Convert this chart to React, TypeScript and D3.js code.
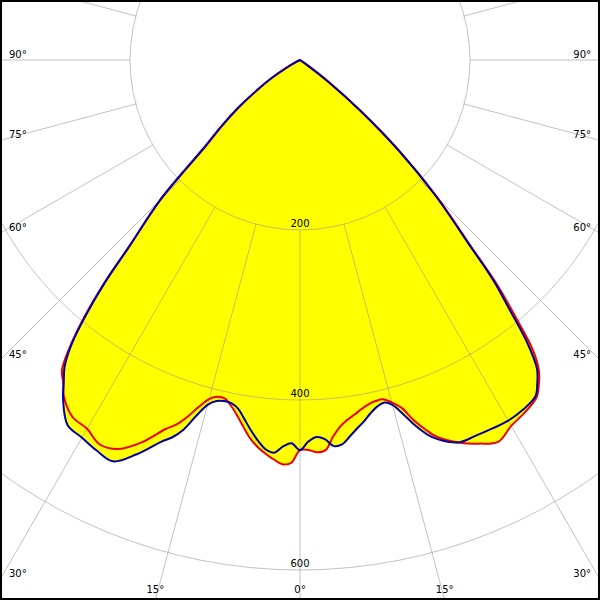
import React from 'react';
import * as d3 from 'd3';

const W = 600;
const H = 600;
const CX = 300;
const CY = 60;

// gamma angles (degrees from nadir)
const gammas = [0, 1.25, 2.5, 3.75, 5, 6.25, 7.5, 8.75, 10, 11.25, 12.5, 13.75, 15, 16.25, 17.5, 18.75, 20, 22.5, 25, 27.5, 30, 32.5, 35, 36.25, 37.5, 38.75, 40, 41.25, 42.5, 45, 47.5, 50, 52.5, 55, 57.5, 60, 62.5, 65, 90];

// blue curve, left half (C180 side) and right half (C0 side)
const blueLeft = [459, 451, 455, 463, 460, 451, 440, 428, 417, 412, 411, 413, 420, 436, 456, 469, 478, 502, 521, 518, 513, 509, 486, 470, 455, 430, 392, 348, 297, 233, 155, 120, 90, 62, 40, 20, 5, 0, 0];
const blueRight = [459, 449, 444, 447, 456, 455, 447, 439, 432, 424, 418, 415, 420, 434, 451, 465, 475, 487, 488, 489, 490, 488, 483, 472, 458, 428, 384, 346, 295, 225, 158, 92, 42, 10, 0, 0, 0, 0, 0];

// red curve, left half and right half
const redLeft = [459, 474, 476, 471, 465, 458, 449, 437, 425, 415, 408, 408, 413, 425, 440, 453, 462, 487, 505, 510, 501, 498, 484, 471, 460, 432, 395, 350, 297, 230, 152, 117, 88, 60, 39, 19, 5, 0, 0];
const redRight = [459, 459, 462, 460, 445, 434, 427, 422, 417, 413, 411, 411, 417, 426, 444, 459, 472, 487, 498, 506, 497, 492, 485, 475, 462, 438, 394, 352, 298, 228, 157, 92, 42, 10, 0, 0, 0, 0, 0];

const ringValues = [200, 400, 600];
const sideLabelAngles = [90, 75, 60, 45, 30];
const bottomLabelAngles = [15, 0];

const rScale = d3.scaleLinear().domain([0, 600]).range([0, 510]);
const rad = (d: number) => (d * Math.PI) / 180;

function curvePoints(left: number[], right: number[]): [number, number][] {
  const pts: [number, number][] = [];
  for (let i = gammas.length - 1; i >= 0; i--) {
    pts.push([Math.PI - rad(gammas[i]), rScale(right[i])]);
  }
  for (let i = 1; i < gammas.length; i++) {
    pts.push([Math.PI + rad(gammas[i]), rScale(left[i])]);
  }
  return pts;
}

const radial = d3
  .lineRadial<[number, number]>()
  .angle((d) => d[0])
  .radius((d) => d[1])
  .curve(d3.curveCatmullRom.alpha(0.5));

export default function App() {
  const bluePath = radial(curvePoints(blueLeft, blueRight)) + 'Z';
  const redPath = radial(curvePoints(redLeft, redRight)) + 'Z';
  const spokes = d3.range(0, 360, 15);
  const rInner = rScale(200);
  const rOuter = 1000;
  const font = { fontFamily: 'DejaVu Sans, sans-serif', fontSize: 10, fill: '#000' };

  return (
    <svg
      width={W}
      height={H}
      style={{ position: 'absolute', left: 0, top: 0, display: 'block' }}
    >
      <rect x={0} y={0} width={W} height={H} fill="#fff" />
      <g transform={`translate(${CX},${CY})`}>
        <path d={redPath} fill="#ffff00" stroke="none" />
        <path d={bluePath} fill="#ffff00" stroke="none" />
        <g stroke="#999" strokeOpacity={0.6} fill="none" strokeWidth={1}>
          {ringValues.map((v) => (
            <circle key={v} r={rScale(v)} />
          ))}
          {spokes.map((a) => (
            <line
              key={a}
              x1={rInner * Math.sin(rad(a))}
              y1={rInner * Math.cos(rad(a))}
              x2={rOuter * Math.sin(rad(a))}
              y2={rOuter * Math.cos(rad(a))}
            />
          ))}
        </g>
        <path d={redPath} fill="none" stroke="#ee0000" strokeWidth={2} strokeLinejoin="round" />
        <path d={bluePath} fill="none" stroke="#0000aa" strokeWidth={2} strokeLinejoin="round" />
      </g>
      {ringValues.map((v) => (
        <text key={v} x={CX} y={CY + rScale(v) - 3} textAnchor="middle" {...font}>
          {v}
        </text>
      ))}
      {sideLabelAngles.map((a) => {
        const y = CY + (CX * Math.cos(rad(a))) / Math.sin(rad(a)) - 2.5;
        return (
          <g key={a}>
            <text x={9} y={y} textAnchor="start" {...font}>{`${a}°`}</text>
            <text x={591} y={y} textAnchor="end" {...font}>{`${a}°`}</text>
          </g>
        );
      })}
      {bottomLabelAngles.map((a) => {
        const dx = (H - CY) * Math.tan(rad(a));
        return (
          <g key={a}>
            <text x={CX - dx} y={593} textAnchor="middle" {...font}>{`${a}°`}</text>
            {a !== 0 && (
              <text x={CX + dx} y={593} textAnchor="middle" {...font}>{`${a}°`}</text>
            )}
          </g>
        );
      })}
      <rect x={1} y={1} width={W - 2} height={H - 2} fill="none" stroke="#000" strokeWidth={2} />
    </svg>
  );
}
